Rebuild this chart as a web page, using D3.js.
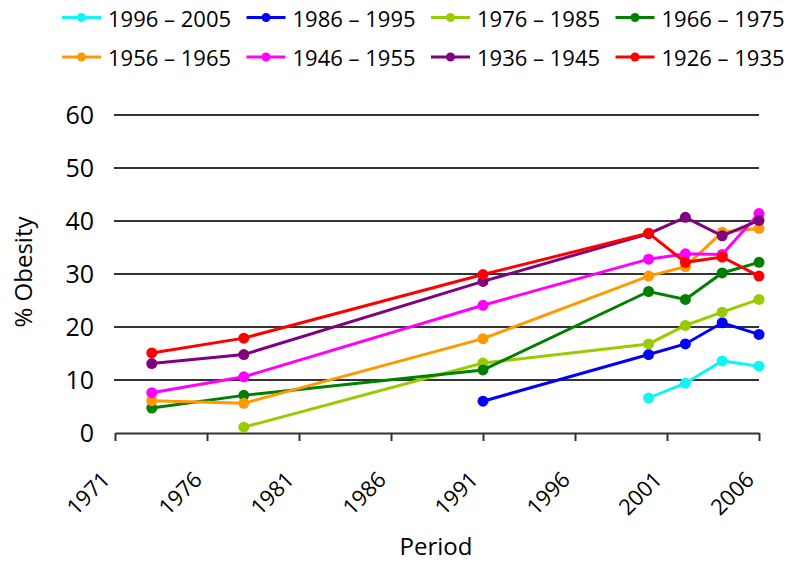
<!DOCTYPE html>
<html><head><meta charset="utf-8">
<script src="https://cdn.jsdelivr.net/npm/d3@7"></script>
<style>body{margin:0;background:#fff}svg{display:block}text{font-family:"Open Sans",sans-serif;fill:#000}</style>
</head><body><svg id="c" width="800" height="563"></svg>
<script>
const years = [1973, 1978, 1991, 2000, 2002, 2004, 2006];
const seriesNames = ["1996 – 2005","1986 – 1995","1976 – 1985","1966 – 1975","1956 – 1965","1946 – 1955","1936 – 1945","1926 – 1935"];
const seriesColors = ["#10f4f8","#0000ff","#99cc00","#008000","#ff9900","#ff00ff","#800080","#ff0000"];
const s1996 = [null,null,null,6.6,9.4,13.6,12.6];
const s1986 = [null,null,6.0,14.8,16.8,20.8,18.6];
const s1976 = [null,1.1,13.2,16.8,20.3,22.8,25.2];
const s1966 = [4.7,7.1,11.9,26.7,25.2,30.2,32.2];
const s1956 = [6.1,5.6,17.8,29.6,31.4,37.9,38.6];
const s1946 = [7.6,10.6,24.1,32.8,33.8,33.7,41.4];
const s1936 = [13.1,14.8,28.6,37.6,40.7,37.2,40.1];
const s1926 = [15.1,17.9,29.9,37.7,32.2,33.2,29.6];
const seriesValues = [s1996,s1986,s1976,s1966,s1956,s1946,s1936,s1926];
const xTicks = [1971,1976,1981,1986,1991,1996,2001,2006];
const yTicks = [0,10,20,30,40,50,60];

const svg = d3.select("#c");
const x = d3.scaleLinear().domain([1971,2006]).range([115,759]);
const y = d3.scaleLinear().domain([0,60]).range([433,115]);

// gridlines
svg.append("g").selectAll("line").data(yTicks.filter(d=>d>0)).join("line")
  .attr("x1",114).attr("x2",759).attr("y1",d=>y(d)).attr("y2",d=>y(d))
  .attr("stroke","#333").attr("stroke-width",2);
// y labels
svg.append("g").selectAll("text").data(yTicks).join("text")
  .attr("x",94).attr("y",d=>y(d)).attr("dy","0.36em").attr("text-anchor","end")
  .attr("font-size",25).text(d=>d);
// x axis
const xa = svg.append("g").attr("transform","translate(0,433)")
  .call(d3.axisBottom(x).tickValues(xTicks).tickFormat(d3.format("d")).tickSize(8).tickSizeOuter(0));
xa.select(".domain").attr("stroke","#333").attr("stroke-width",2);
xa.selectAll(".tick line").attr("stroke","#333").attr("stroke-width",2);
xa.selectAll(".tick text").attr("font-size",22).attr("font-family","Open Sans")
  .attr("fill","#000").attr("text-anchor","end")
  .attr("x",-4).attr("y",48).attr("dy",0).attr("transform","rotate(-45,-4,48)");

// axis titles
svg.append("text").attr("x",436).attr("y",555).attr("text-anchor","middle").attr("font-size",24).text("Period");
svg.append("text").attr("transform","translate(32,272) rotate(-90)").attr("text-anchor","middle").attr("font-size",24).text("% Obesity");

// lines
const line = d3.line().defined(d=>d.v!=null).x(d=>x(d.yr)).y(d=>y(d.v));
seriesValues.forEach((vals,i)=>{
  const pts = vals.map((v,j)=>({yr:years[j],v}));
  const g = svg.append("g");
  g.append("path").datum(pts).attr("d",line).attr("fill","none")
    .attr("stroke",seriesColors[i]).attr("stroke-width",3);
  g.selectAll("circle").data(pts.filter(d=>d.v!=null)).join("circle")
    .attr("cx",d=>x(d.yr)).attr("cy",d=>y(d.v)).attr("r",5.5).attr("fill",seriesColors[i]);
});

// legend
const lg = svg.append("g");
seriesNames.forEach((n,i)=>{
  const col = i%4, row = Math.floor(i/4);
  const lx = 62 + col*184.5, ly = 17.5 + row*39.5;
  lg.append("line").attr("x1",lx).attr("x2",lx+39).attr("y1",ly).attr("y2",ly)
    .attr("stroke",seriesColors[i]).attr("stroke-width",3);
  lg.append("circle").attr("cx",lx+19.5).attr("cy",ly).attr("r",4.5).attr("fill",seriesColors[i]);
  lg.append("text").attr("x",lx+46).attr("y",ly+9).attr("font-size",22).text(n);
});
</script></body></html>
